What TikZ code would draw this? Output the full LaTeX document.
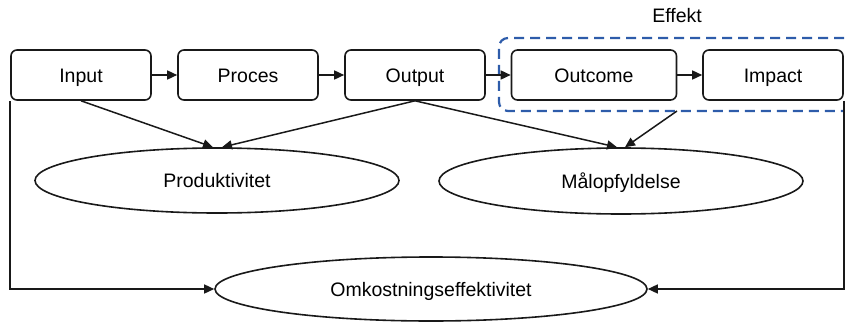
\documentclass[tikz,border=0pt]{standalone}
\usepackage{fontspec}
\setmainfont{Liberation Sans}
\usetikzlibrary{arrows.meta,shapes.geometric,calc}
\definecolor{effblue}{RGB}{46,92,170}
\tikzset{
  txt/.style={font=\fontsize{19.5}{23}\selectfont,text height=14pt,text depth=0pt},
  stepbox/.style={txt,draw=black!90,line width=1.6pt,rounded corners=6pt,minimum height=50pt,inner sep=0pt},
  ell/.style={txt,draw=black!90,line width=1.6pt,ellipse,inner sep=0pt},
  arr/.style={draw=black!90,line width=1.5pt,-{Triangle[length=10pt,width=9pt]}},
  effdash/.style={draw=effblue,line width=2.2pt,dash pattern=on 10pt off 6pt,rounded corners=9pt}
}
\begin{document}
\begin{tikzpicture}[x=1pt,y=-1pt]
\useasboundingbox (0,0) rectangle (845,321);
\node[stepbox,minimum width=140pt] (in) at (81,75) {Input};
\node[stepbox,minimum width=140pt] (pr) at (248,75) {Proces};
\node[stepbox,minimum width=140pt] (out) at (415,75) {Output};
\node[stepbox,minimum width=165pt] (oc) at (594,75) {Outcome};
\node[stepbox,minimum width=140pt] (im) at (773,75) {Impact};
\draw[effdash] (860,38) -- (499,38) -- (499,111) -- (860,111);
\coordinate (effb) at (677,111);
\node[txt] (eff) at (677,16) {Effekt};
\node[ell,minimum width=364pt,minimum height=65pt] (prod) at (217,180.5) {Produktivitet};
\node[ell,minimum width=364pt,minimum height=66pt] (maal) at (621,181) {Målopfyldelse};
\node[ell,minimum width=432pt,minimum height=64pt] (omk) at (431,289) {Omkostningseffektivitet};
\draw[arr] (in) -- (pr);
\draw[arr] (pr) -- (out);
\draw[arr] (out) -- (oc);
\draw[arr] (oc) -- (im);
\draw[arr] (in.south) -- ($(prod.north)+(-4,0)$);
\draw[arr] (out.south) -- ($(prod.north)+(5,0)$);
\draw[arr] (out.south) -- ($(maal.north)+(-4,0)$);
\draw[arr] (effb) -- ($(maal.north)+(4,0)$);
\draw[arr] (in.south west) |- (omk.west);
\draw[arr] (im.south east) |- (omk.east);
\end{tikzpicture}
\end{document}
